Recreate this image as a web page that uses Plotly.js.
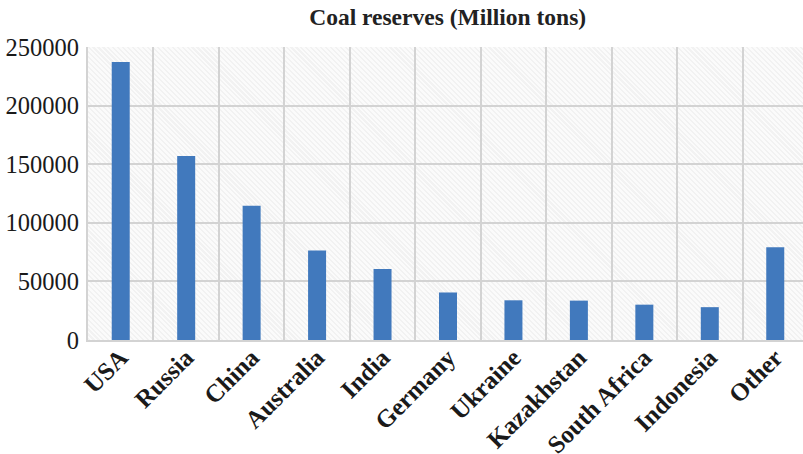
<!DOCTYPE html>
<html>
<head>
<meta charset="utf-8">
<script src="https://cdn.plot.ly/plotly-3.0.1.min.js"></script>
<style>
  html, body { margin: 0; padding: 0; background: #ffffff; overflow: hidden; }
  #wrap { position: relative; width: 803px; height: 454px; }
  #hatch {
    position: absolute;
    background: repeating-linear-gradient(45deg, #f2f2f2 0px, #f2f2f2 1.5px, #fbfbfb 1.5px, #fbfbfb 3.5px);
  }
  #chart { position: absolute; left: 0; top: 0; width: 803px; height: 454px; }
</style>
</head>
<body>
<div id="wrap">
  <div id="hatch"></div>
  <div id="chart"></div>
</div>
<script>
// Proven coal reserves by country, million tons
const countries = ["USA", "Russia", "China", "Australia", "India", "Germany",
                   "Ukraine", "Kazakhstan", "South Africa", "Indonesia", "Other"];
const reserves = [237295, 157010, 114500, 76400, 60600, 40548,
                  33873, 33600, 30156, 28017, 79200];
const yTicks = [0, 50000, 100000, 150000, 200000, 250000];

const serif = "'Liberation Serif', 'Times New Roman', serif";
const gridColor = "#d3d3d3";

const trace = {
  type: "bar",
  x: countries,
  y: reserves,
  marker: { color: "#4179bd" },
  hoverinfo: "x+y"
};

const layout = {
  width: 803,
  height: 454,
  margin: { l: 88, r: 0, t: 47, b: 114, pad: 0 },
  paper_bgcolor: "rgba(0,0,0,0)",
  plot_bgcolor: "rgba(0,0,0,0)",
  bargap: 0.725,
  showlegend: false,
  title: {
    text: "<b>Coal reserves (Million tons)</b>",
    font: { family: serif, size: 23.5, color: "#222222" },
    xref: "paper",
    x: 0.503, xanchor: "center",
    y: 0.964, yanchor: "middle"
  },
  xaxis: {
    type: "category",
    range: [-0.5, 10.424],
    tickson: "boundaries",
    ticks: "",
    showgrid: true,
    gridcolor: gridColor,
    gridwidth: 2,
    showline: true,
    linecolor: gridColor,
    linewidth: 2,
    tickangle: -45,
    ticklabelstandoff: -9,
    tickfont: { family: serif, size: 25, color: "#1a1a1a", weight: "bold" },
    fixedrange: true
  },
  yaxis: {
    range: [0, 250000],
    tickvals: yTicks,
    ticktext: yTicks.map(String),
    ticks: "",
    showgrid: true,
    gridcolor: gridColor,
    gridwidth: 2,
    zeroline: false,
    showline: true,
    linecolor: gridColor,
    linewidth: 2,
    ticklabelstandoff: 2,
    tickfont: { family: serif, size: 24.5, color: "#1a1a1a" },
    fixedrange: true
  }
};

Plotly.newPlot("chart", [trace], layout, { displayModeBar: false, staticPlot: true }).then(function (gd) {
  // place the hatched backdrop exactly under the plotting area
  const s = gd._fullLayout._size;
  const h = document.getElementById("hatch");
  h.style.left = s.l + "px";
  h.style.top = s.t + "px";
  h.style.width = s.w + "px";
  h.style.height = s.h + "px";
});
</script>
</body>
</html>
